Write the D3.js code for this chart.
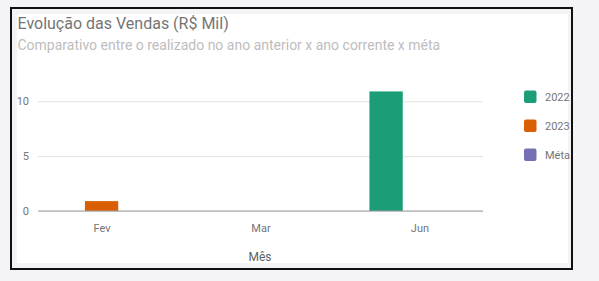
<!DOCTYPE html>
<html>
<head>
<meta charset="utf-8">
<script src="https://cdn.jsdelivr.net/npm/d3@7"></script>
<style>
  html, body { margin: 0; padding: 0; background: #f4f4f6; }
  svg { display: block; font-family: Roboto, Arial, sans-serif; }
</style>
</head>
<body>
<div id="chart"></div>
<script>
// data
var months = ["Fev", "Mar", "Jun"];
var series = ["2022", "2023", "Méta"];
var v2022 = [0, 0, 10.9];
var v2023 = [0.9, 0, 0];
var vMeta = [0, 0, 0];
var yTicks = [0, 5, 10];
var colors = ["#1b9e77", "#d95f02", "#7570b3"];

var W = 599, H = 281;
var svg = d3.select("#chart").append("svg")
    .attr("width", W).attr("height", H);

svg.append("rect").attr("width", W).attr("height", H).attr("fill", "#f4f4f6");
// card frame
svg.append("rect")
    .attr("x", 11).attr("y", 8).attr("width", 561).attr("height", 261)
    .attr("fill", "#f4f4f6").attr("stroke", "#111").attr("stroke-width", 2);
svg.append("rect")
    .attr("x", 17).attr("y", 14).attr("width", 551).attr("height", 249)
    .attr("fill", "#fff");

svg.append("text").attr("x", 17.5).attr("y", 28.5)
    .attr("font-size", 16).attr("fill", "#757575")
    .text("Evolução das Vendas (R$ Mil)");
svg.append("text").attr("x", 17.5).attr("y", 49.5)
    .attr("font-size", 14).attr("fill", "#bdbdbd")
    .text("Comparativo entre o realizado no ano anterior x ano corrente x méta");

var left = 38, right = 483, base = 211;
var x = d3.scalePoint().domain(months).range([left, right]).padding(0.4);
var xs = d3.scaleBand().domain(series).range([-50, 50]);
var y = d3.scaleLinear().domain([0, 10]).range([base, 101.3]);

// grid
var grid = svg.append("g").attr("transform", "translate(" + left + ",0)")
    .call(d3.axisLeft(y).tickValues(yTicks).tickSize(-(right - left)).tickFormat(""));
grid.select(".domain").remove();
grid.selectAll("line").attr("stroke", "#e0e0e0");

var yax = svg.append("g").attr("transform", "translate(" + (left - 6) + ",0)")
    .call(d3.axisLeft(y).tickValues(yTicks).tickSize(0));
yax.select(".domain").remove();
yax.selectAll("text").attr("font-size", 11).attr("fill", "#757575")
    .attr("font-family", "Roboto, Arial, sans-serif");

var rows = [v2022, v2023, vMeta];
var bars = [];
months.forEach(function(m, i) {
  series.forEach(function(s, j) {
    bars.push({ m: m, s: s, v: rows[j][i], c: colors[j] });
  });
});
svg.append("g").selectAll("rect").data(bars.filter(function(d) { return d.v > 0; }))
  .enter().append("rect")
    .attr("x", function(d) { return x(d.m) + xs(d.s); })
    .attr("width", xs.bandwidth())
    .attr("y", function(d) { return y(d.v); })
    .attr("height", function(d) { return base - y(d.v); })
    .attr("fill", function(d) { return d.c; });

// baseline and x labels
var xax = svg.append("g").attr("transform", "translate(0," + base + ")")
    .call(d3.axisBottom(x).tickSize(0).tickPadding(13));
xax.select(".domain").attr("stroke", "#9e9e9e").attr("d", "M" + left + ",0H" + right);
xax.selectAll("text").attr("font-size", 11).attr("fill", "#757575")
    .attr("font-family", "Roboto, Arial, sans-serif");

svg.append("text").attr("x", 260).attr("y", 261).attr("text-anchor", "middle")
    .attr("font-size", 12).attr("fill", "#616161").text("Mês");

// legend
var lg = svg.append("g").selectAll("g").data(series).enter().append("g")
    .attr("transform", function(d, i) { return "translate(524," + (90.5 + i * 29) + ")"; });
lg.append("rect").attr("width", 12.5).attr("height", 12.5).attr("rx", 2)
    .attr("fill", function(d, i) { return colors[i]; });
lg.append("text").attr("x", 21).attr("y", 10).attr("font-size", 11)
    .attr("fill", "#757575").text(function(d) { return d; });
</script>
</body>
</html>
